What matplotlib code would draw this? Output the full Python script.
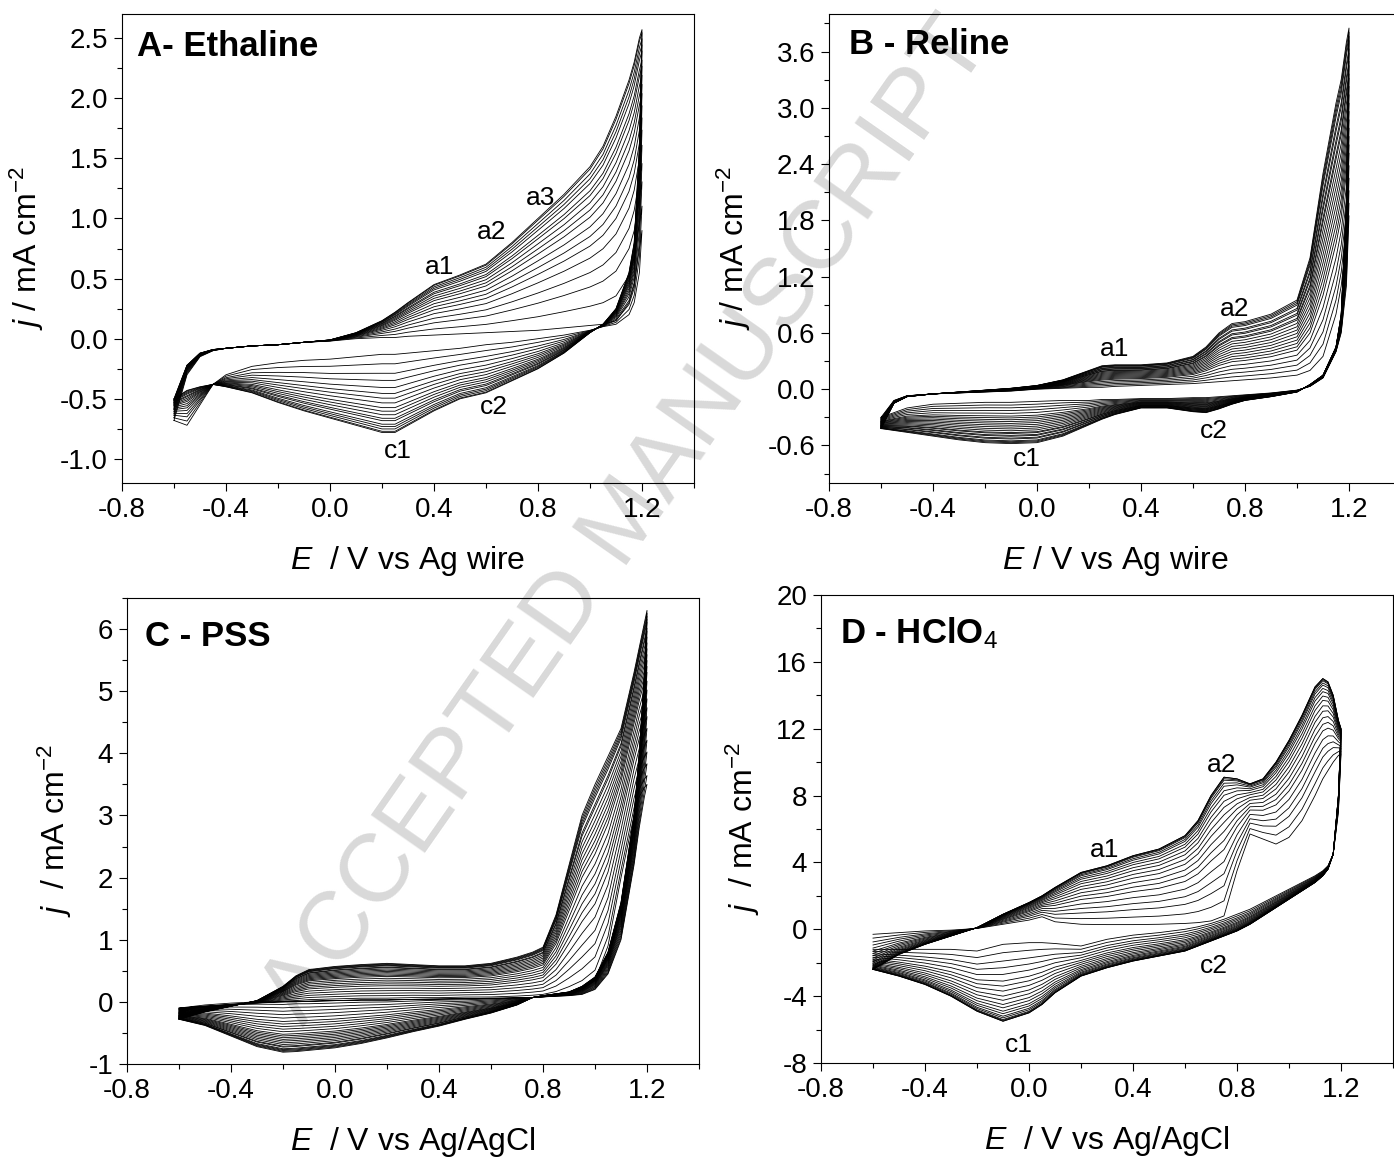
import numpy as np
import matplotlib
matplotlib.use("Agg")
import matplotlib.pyplot as plt
from matplotlib.ticker import MultipleLocator, FormatStrFormatter

plt.rcParams["font.family"] = ["Liberation Sans", "DejaVu Sans"]
plt.rcParams["mathtext.fontset"] = "custom"
plt.rcParams["mathtext.rm"] = "Liberation Sans"
plt.rcParams["mathtext.it"] = "Liberation Sans:italic"

# ---- A - Ethaline: first / last cycle, forward (an) and reverse (ca) sweep ----
E_A = [-0.6, -0.55, -0.5, -0.45, -0.4, -0.3, -0.2, -0.1, 0.0, 0.1, 0.2, 0.25, 0.3,
       0.4, 0.5, 0.6, 0.7, 0.8, 0.9, 1.0, 1.05, 1.1, 1.15, 1.17, 1.19, 1.2]
A_an_first = [-0.68, -0.3, -0.15, -0.1, -0.08, -0.06, -0.05, -0.03, -0.02, 0.0, 0.01, 0.01, 0.02,
              0.03, 0.04, 0.05, 0.06, 0.07, 0.09, 0.11, 0.12, 0.15, 0.3, 0.45, 0.75, 0.9]
A_an_last = [-0.5, -0.22, -0.12, -0.09, -0.08, -0.06, -0.05, -0.03, -0.01, 0.05, 0.15, 0.22, 0.3,
             0.45, 0.53, 0.62, 0.8, 1.0, 1.2, 1.43, 1.6, 1.85, 2.15, 2.3, 2.5, 2.57]
A_ca_first = [-0.68, -0.72, -0.55, -0.38, -0.3, -0.23, -0.2, -0.18, -0.17, -0.15, -0.13, -0.13, -0.12,
              -0.1, -0.08, -0.05, -0.03, 0.0, 0.03, 0.07, 0.1, 0.12, 0.2, 0.3, 0.55, 0.9]
A_ca_last = [-0.5, -0.43, -0.4, -0.38, -0.4, -0.45, -0.53, -0.6, -0.66, -0.72, -0.78, -0.78, -0.72,
             -0.6, -0.5, -0.45, -0.35, -0.25, -0.12, 0.05, 0.12, 0.25, 0.55, 0.8, 1.6, 2.57]
# c1 current (E ~ 0.22 V) read for each cycle
A_cycles = [-0.12, -0.2, -0.28, -0.34, -0.4, -0.45, -0.49, -0.53, -0.57, -0.6,
            -0.63, -0.66, -0.68, -0.71, -0.73, -0.75, -0.77, -0.78]

# ---- B - Reline ----
E_B = [-0.6, -0.55, -0.5, -0.4, -0.3, -0.2, -0.1, 0.0, 0.1, 0.2, 0.25, 0.3, 0.4, 0.5,
       0.6, 0.65, 0.7, 0.75, 0.8, 0.9, 1.0, 1.05, 1.1, 1.15, 1.17, 1.19, 1.2]
B_an_first = [-0.3, -0.12, -0.07, -0.05, -0.04, -0.03, -0.02, 0.0, 0.01, 0.02, 0.02, 0.03, 0.04, 0.05,
              0.06, 0.07, 0.08, 0.09, 0.1, 0.12, 0.15, 0.2, 0.35, 0.8, 1.1, 1.6, 1.85]
B_an_last = [-0.42, -0.15, -0.08, -0.05, -0.03, -0.01, 0.01, 0.04, 0.1, 0.2, 0.25, 0.26, 0.26, 0.28,
             0.35, 0.45, 0.6, 0.7, 0.72, 0.8, 0.95, 1.4, 2.3, 3.05, 3.3, 3.7, 3.85]
B_ca_first = [-0.3, -0.25, -0.2, -0.16, -0.15, -0.14, -0.14, -0.13, -0.12, -0.12, -0.11, -0.11, -0.1, -0.1,
              -0.09, -0.09, -0.08, -0.07, -0.06, -0.04, -0.01, 0.03, 0.12, 0.4, 0.6, 1.1, 1.85]
B_ca_last = [-0.42, -0.44, -0.46, -0.5, -0.54, -0.57, -0.58, -0.57, -0.5, -0.38, -0.32, -0.27, -0.2, -0.2,
             -0.24, -0.25, -0.21, -0.16, -0.12, -0.08, -0.03, 0.05, 0.15, 0.45, 0.8, 2.0, 3.85]
# c1 current (E ~ -0.05 V) for each cycle
B_cycles = [-0.13, -0.16, -0.19, -0.22, -0.25, -0.28, -0.3, -0.32, -0.34, -0.36, -0.38, -0.4,
            -0.42, -0.44, -0.46, -0.47, -0.49, -0.5, -0.52, -0.53, -0.55, -0.56, -0.57, -0.58]

# ---- C - PSS ----
E_C = [-0.6, -0.5, -0.4, -0.3, -0.2, -0.15, -0.1, 0.0, 0.1, 0.2, 0.3, 0.4, 0.5, 0.6,
       0.7, 0.76, 0.8, 0.85, 0.9, 0.95, 1.0, 1.05, 1.1, 1.15, 1.17, 1.19, 1.2]
C_an_first = [-0.1, -0.07, -0.04, -0.02, 0.0, 0.0, 0.01, 0.02, 0.03, 0.03, 0.04, 0.04, 0.05, 0.05,
              0.06, 0.07, 0.08, 0.1, 0.14, 0.2, 0.35, 0.9, 2.0, 3.0, 3.3, 3.45, 3.5]
C_an_last = [-0.28, -0.16, -0.07, 0.02, 0.25, 0.42, 0.52, 0.57, 0.6, 0.62, 0.6, 0.58, 0.58, 0.62,
             0.72, 0.8, 0.88, 1.4, 2.2, 3.0, 3.5, 3.95, 4.4, 5.3, 5.7, 6.1, 6.3]
C_ca_first = [-0.1, -0.05, -0.02, 0.0, 0.0, 0.01, 0.01, 0.02, 0.03, 0.03, 0.04, 0.05, 0.05, 0.06,
              0.07, 0.07, 0.08, 0.09, 0.1, 0.12, 0.2, 0.45, 1.0, 2.2, 2.8, 3.3, 3.5]
C_ca_last = [-0.28, -0.38, -0.55, -0.72, -0.81, -0.8, -0.78, -0.74, -0.67, -0.58, -0.48, -0.39, -0.28, -0.18,
             -0.05, 0.07, 0.1, 0.13, 0.16, 0.25, 0.4, 0.8, 1.6, 3.0, 4.0, 5.3, 6.3]
# plateau current (E ~ 0.2 V) for each cycle
C_cycles = [0.03, 0.06, 0.1, 0.14, 0.18, 0.22, 0.26, 0.29, 0.32, 0.35, 0.38, 0.41, 0.43,
            0.45, 0.47, 0.49, 0.51, 0.53, 0.55, 0.56, 0.58, 0.59, 0.6, 0.61, 0.62]

# ---- D - HClO4 ----
E_D = [-0.6, -0.5, -0.4, -0.3, -0.2, -0.1, 0.0, 0.05, 0.1, 0.2, 0.3, 0.4, 0.5, 0.6, 0.65,
       0.7, 0.75, 0.8, 0.85, 0.9, 0.95, 1.0, 1.05, 1.1, 1.13, 1.15, 1.17, 1.19, 1.2]
D_an_first = [-0.3, -0.2, -0.1, -0.05, 0.05, 0.3, 0.55, 0.75, 0.45, 0.3, 0.28, 0.28, 0.3, 0.35, 0.4,
              0.5, 0.8, 3.5, 5.7, 5.4, 5.1, 5.5, 6.5, 8.0, 9.0, 9.5, 10.0, 10.4, 10.5]
D_an_last = [-2.4, -1.5, -0.9, -0.4, 0.1, 0.9, 1.6, 2.0, 2.5, 3.4, 3.8, 4.4, 4.8, 5.6, 6.5,
             8.0, 9.1, 9.0, 8.7, 9.0, 10.0, 11.3, 12.8, 14.5, 15.0, 14.8, 14.0, 12.5, 12.0]
D_ca_first = [-1.2, -1.2, -1.2, -1.2, -1.3, -0.9, -0.8, -0.8, -0.85, -1.0, -0.6, -0.35, -0.2, 0.0, 0.15,
              0.35, 0.6, 0.9, 1.2, 1.6, 2.0, 2.4, 2.8, 3.2, 3.5, 3.8, 4.5, 7.0, 10.5]
D_ca_last = [-2.4, -2.8, -3.3, -4.0, -4.9, -5.5, -5.0, -4.5, -3.8, -2.8, -2.3, -1.9, -1.6, -1.3, -1.0,
             -0.7, -0.4, -0.1, 0.3, 0.8, 1.3, 1.8, 2.3, 2.8, 3.2, 3.6, 4.5, 8.0, 12.0]
# c1 current (E ~ -0.1 V) for each cycle
D_cycles = [-0.9, -1.4, -1.9, -2.3, -2.7, -3.1, -3.4, -3.7, -4.0, -4.25,
            -4.5, -4.7, -4.9, -5.05, -5.2, -5.3, -5.4, -5.45, -5.5, -5.5]


def draw_cycles(ax, E, an0, an1, ca0, ca1, ref):
    E = np.asarray(E)
    an0, an1 = np.asarray(an0), np.asarray(an1)
    ca0, ca1 = np.asarray(ca0), np.asarray(ca1)
    ref = np.asarray(ref)
    for v in ref:
        f = (v - ref[0]) / (ref[-1] - ref[0])
        an = an0 + f * (an1 - an0)
        ca = ca0 + f * (ca1 - ca0)
        ax.plot(np.concatenate([E, E[::-1]]), np.concatenate([an, ca[::-1]]),
                color="k", lw=0.6)


W, H = 1394, 1159
fig = plt.figure(figsize=(W / 100, H / 100), dpi=100)


def px_axes(left, top, bottom, width=572):
    return fig.add_axes([left / W, 1 - bottom / H, width / W, (bottom - top) / H])


fig.text(0.45, 0.55, "ACCEPTED MANUSCRIPT", rotation=55, fontsize=70,
         color="#d9d9d9", ha="center", va="center", zorder=-1)

panels = [
    dict(pos=(122, 14, 483), data=(E_A, A_an_first, A_an_last, A_ca_first, A_ca_last, A_cycles),
         ylim=(-1.2, 2.7), major=0.5, fmt="%.1f", title="A- Ethaline", tpos=(0.026, 0.93),
         xlabel="$E$  / V vs Ag wire", ylabel="$j$ / mA cm$^{-2}$",
         notes=[("a1", 0.42, 0.6), ("a2", 0.62, 0.89), ("a3", 0.81, 1.17),
                ("c2", 0.63, -0.57), ("c1", 0.26, -0.93)]),
    dict(pos=(829, 14, 483), data=(E_B, B_an_first, B_an_last, B_ca_first, B_ca_last, B_cycles),
         ylim=(-1.0, 4.0), major=0.6, fmt="%.1f", title="B - Reline", tpos=(0.035, 0.934),
         xlabel="$E$ / V vs Ag wire", ylabel="$j$ / mA cm$^{-2}$",
         notes=[("a1", 0.30, 0.43), ("a2", 0.76, 0.86), ("c1", -0.04, -0.74), ("c2", 0.68, -0.45)]),
    dict(pos=(127, 598, 1064), data=(E_C, C_an_first, C_an_last, C_ca_first, C_ca_last, C_cycles),
         ylim=(-1, 6.5), major=1, fmt="%d", title="C - PSS", tpos=(0.031, 0.918),
         xlabel="$E$  / V vs Ag/AgCl", ylabel="$j$  / mA cm$^{-2}$", notes=[]),
    dict(pos=(821, 595, 1063), data=(E_D, D_an_first, D_an_last, D_ca_first, D_ca_last, D_cycles),
         ylim=(-8, 20), major=4, fmt="%d", title="D - HClO$_4$", tpos=(0.033, 0.919),
         xlabel="$E$  / V vs Ag/AgCl", ylabel="$j$  / mA cm$^{-2}$",
         notes=[("a1", 0.29, 4.73), ("a2", 0.74, 9.8), ("c1", -0.04, -6.94), ("c2", 0.71, -2.2)]),
]

for p in panels:
    ax = px_axes(*p["pos"])
    ax.set_facecolor("none")
    draw_cycles(ax, *p["data"])
    ax.set_xlim(-0.8, 1.4)
    ax.set_ylim(*p["ylim"])
    ax.set_xticks([-0.8, -0.4, 0.0, 0.4, 0.8, 1.2])
    ax.xaxis.set_minor_locator(MultipleLocator(0.2))
    ax.xaxis.set_major_formatter(FormatStrFormatter("%.1f"))
    ax.yaxis.set_major_locator(MultipleLocator(p["major"]))
    ax.yaxis.set_minor_locator(MultipleLocator(p["major"] / 2))
    ax.yaxis.set_major_formatter(FormatStrFormatter(p["fmt"]))
    ax.tick_params(which="both", direction="out", labelsize=20, width=0.8, pad=4)
    ax.tick_params(which="major", length=6)
    ax.tick_params(which="minor", length=3.5)
    for s in ax.spines.values():
        s.set_linewidth(0.8)
    ax.set_xlabel(p["xlabel"], fontsize=23, labelpad=15)
    ax.set_ylabel(p["ylabel"], fontsize=23, labelpad=10)
    ax.text(*p["tpos"], p["title"], transform=ax.transAxes, fontsize=25,
            fontweight="bold", ha="left", va="center")
    for lab, x, y in p["notes"]:
        ax.text(x, y, lab, fontsize=19, ha="center", va="center")

fig.savefig("out.png", dpi=100)
